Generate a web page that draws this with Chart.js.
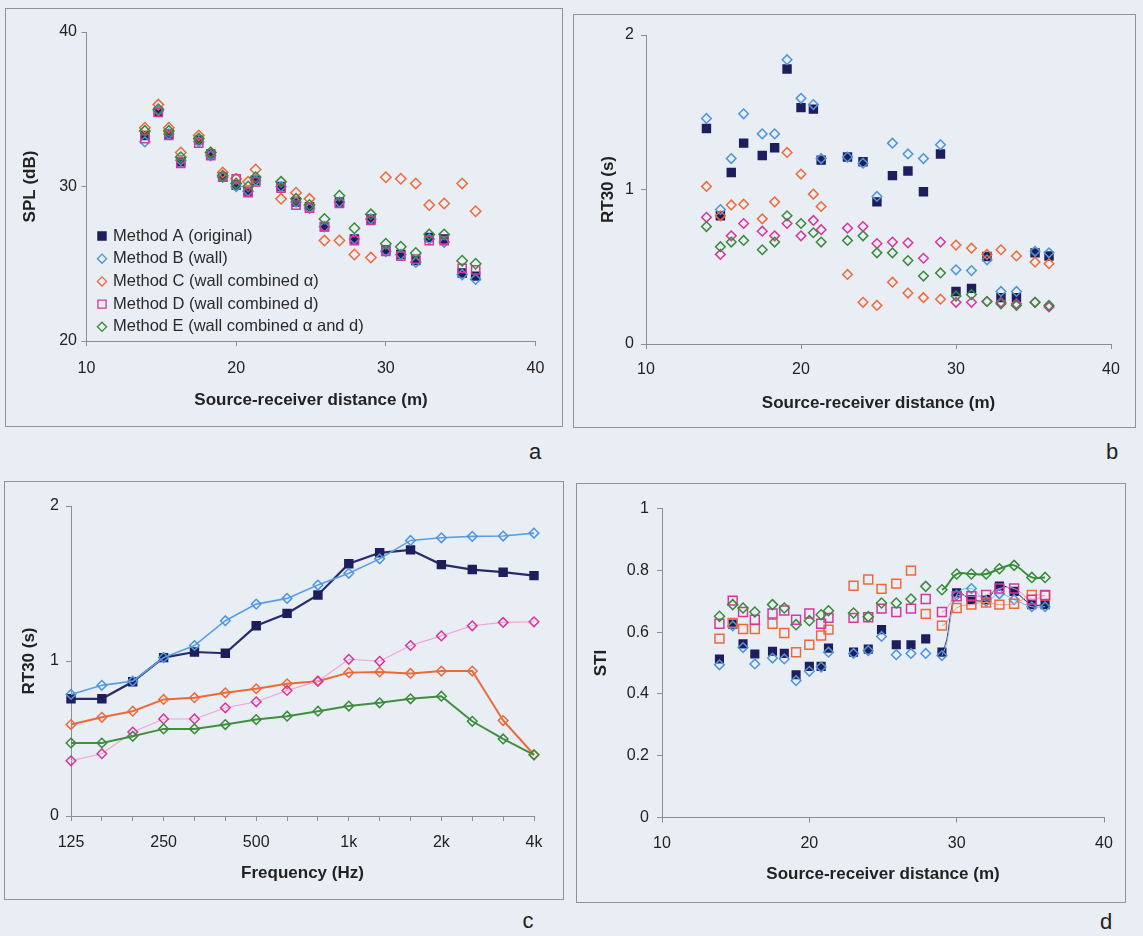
<!DOCTYPE html>
<html><head><meta charset="utf-8">
<script src="https://cdn.jsdelivr.net/npm/chart.js@4.4.1/dist/chart.umd.min.js"></script>
<style>
html,body{margin:0;padding:0;background:#e8eef4;width:1143px;height:936px;overflow:hidden;font-family:"Liberation Sans",Arial,sans-serif}
.frame{position:absolute;border:1.5px solid #8e949e;box-sizing:border-box}
canvas{position:absolute}
.lab{position:absolute;font-size:22px;color:#222;transform:translate(-50%,-50%)}
</style></head><body>
<div class="frame" style="left:5px;top:8px;width:558px;height:419px"></div>
<div class="frame" style="left:573px;top:14px;width:563px;height:414px"></div>
<div class="frame" style="left:4px;top:481px;width:560px;height:419px"></div>
<div class="frame" style="left:576px;top:483px;width:550px;height:420px"></div>
<canvas id="ca" width="558" height="419" style="left:5px;top:8px"></canvas>
<canvas id="cb" width="563" height="414" style="left:573px;top:14px"></canvas>
<canvas id="cc" width="560" height="419" style="left:4px;top:481px"></canvas>
<canvas id="cd" width="550" height="420" style="left:576px;top:483px"></canvas>
<div class="lab" style="left:535px;top:452px">a</div>
<div class="lab" style="left:1112px;top:452px">b</div>
<div class="lab" style="left:528px;top:921px">c</div>
<div class="lab" style="left:1106px;top:922px">d</div>
<script>
// ---------- data ----------
const seriesNames = ['Method A (original)','Method B (wall)','Method C (wall combined α)','Method D (wall combined d)','Method E (wall combined α and d)'];
const distances = [13.9,14.8,15.5,16.3,17.5,18.3,19.1,20.0,20.8,21.3,23.0,24.0,24.9,25.9,26.9,27.9,29.0,30.0,31.0,32.0,32.9,33.9,35.1,36.0];

// (a) SPL (dB)
const splA = [33.3,34.8,33.4,31.6,33.0,32.1,30.6,30.1,29.7,30.4,30.0,29.0,28.7,27.4,29.0,26.6,27.9,25.9,25.6,25.2,26.7,26.6,24.4,24.2];
const splB = [32.9,34.9,33.4,31.7,32.9,32.0,30.6,30.0,29.7,30.4,30.0,29.0,28.6,27.4,29.0,26.6,27.9,25.8,25.6,25.1,26.6,26.4,24.3,24.0];
const splC = [33.8,35.3,33.8,32.2,33.3,32.2,30.9,30.5,30.3,31.1,29.2,29.6,29.2,26.5,26.5,25.6,25.4,30.6,30.5,30.2,28.8,28.9,30.2,28.4];
const splD = [33.1,34.8,33.3,31.5,32.8,32.0,30.6,30.5,29.6,30.3,29.9,28.8,28.6,27.4,28.9,26.5,27.8,25.8,25.5,25.3,26.5,26.5,24.7,24.6];
const splE = [33.6,35.0,33.6,31.9,33.1,32.2,30.7,30.2,30.0,30.6,30.3,29.2,28.8,27.9,29.4,27.3,28.2,26.3,26.1,25.7,26.9,26.9,25.2,25.0];

// (b) RT30 (s) vs distance
const rtA = [1.395,0.83,1.11,1.30,1.22,1.27,1.78,1.53,1.52,1.19,1.21,1.18,0.92,1.09,1.12,0.985,1.23,0.34,0.36,0.566,0.30,0.30,0.59,0.57];
const rtB = [1.46,0.87,1.20,1.49,1.36,1.36,1.84,1.59,1.55,1.20,1.21,1.17,0.955,1.30,1.23,1.20,1.29,0.48,0.475,0.545,0.34,0.34,0.60,0.59];
const rtC = [1.02,0.83,0.90,0.905,0.81,0.92,1.24,1.10,0.97,0.89,0.45,0.27,0.25,0.40,0.33,0.30,0.29,0.64,0.62,0.58,0.61,0.57,0.53,0.52];
const rtD = [0.82,0.58,0.70,0.78,0.73,0.70,0.78,0.70,0.80,0.74,0.75,0.76,0.65,0.66,0.655,0.555,0.66,0.27,0.27,0.275,0.27,0.26,0.27,0.24];
const rtE = [0.76,0.63,0.66,0.67,0.61,0.66,0.83,0.78,0.72,0.66,0.67,0.70,0.59,0.59,0.54,0.44,0.46,0.31,0.32,0.275,0.26,0.25,0.27,0.25];

// (c) RT30 (s) vs frequency
const freqLabels = ['125','160','200','250','315','400','500','630','800','1k','1.25k','1.6k','2k','2.5k','3.15k','4k'];
const freqA = [0.756,0.756,0.866,1.022,1.058,1.05,1.227,1.307,1.426,1.627,1.698,1.717,1.622,1.59,1.573,1.551];
const freqB = [0.784,0.843,0.87,1.022,1.10,1.26,1.367,1.404,1.49,1.566,1.659,1.778,1.795,1.804,1.806,1.825];
const freqC = [0.59,0.637,0.676,0.752,0.763,0.795,0.821,0.853,0.87,0.925,0.929,0.92,0.935,0.935,0.616,0.395];
const freqD = [0.356,0.402,0.542,0.626,0.626,0.698,0.737,0.81,0.87,1.011,0.998,1.10,1.162,1.227,1.249,1.253];
const freqE = [0.471,0.471,0.514,0.562,0.562,0.59,0.622,0.644,0.676,0.709,0.73,0.756,0.773,0.611,0.497,0.395];

// (d) STI
const stiA = [0.513,0.626,0.562,0.529,0.538,0.531,0.462,0.489,0.489,0.548,0.535,0.545,0.608,0.559,0.559,0.578,0.535,0.727,0.705,0.705,0.749,0.732,0.689,0.689];
const stiB = [0.494,0.62,0.55,0.497,0.516,0.513,0.443,0.473,0.487,0.535,0.531,0.54,0.586,0.527,0.531,0.531,0.524,0.72,0.741,0.70,0.724,0.705,0.682,0.682];
const stiC = [0.579,0.63,0.61,0.61,0.627,0.597,0.535,0.559,0.589,0.608,0.75,0.77,0.74,0.757,0.799,0.659,0.621,0.678,0.689,0.696,0.689,0.692,0.72,0.718];
const stiD = [0.627,0.702,0.665,0.64,0.66,0.67,0.64,0.66,0.627,0.646,0.646,0.648,0.676,0.665,0.676,0.707,0.665,0.716,0.716,0.72,0.741,0.741,0.705,0.72];
const stiE = [0.651,0.689,0.678,0.665,0.689,0.678,0.624,0.637,0.656,0.669,0.662,0.65,0.694,0.694,0.707,0.748,0.737,0.788,0.788,0.788,0.805,0.816,0.777,0.777];

// ---------- styling ----------
const FAM = '"Liberation Sans", Arial, sans-serif';
const NAVY='#1e1e5c', BLUE='#4e95dd', ORANGE='#ee6a3a', PINK='#d8369e', GREEN='#3a8a3a';
const AXC = '#8a8e98', TXT = '#222';

function xy(xs, ys){ return xs.map((x,i)=>({x:x, y:ys[i]})); }

function axis(o){
  return {
    type: o.type || 'linear',
    min: o.min, max: o.max,
    offset: false,
    ticks: Object.assign({stepSize:o.step, color:TXT, font:{size:16, family:FAM}, padding:o.tpad, autoSkip:false, maxRotation:0, minRotation:0}, o.ticks||{}),
    grid: {display:true, drawOnChartArea:false, drawTicks:true, tickLength:5, color:AXC, lineWidth:1, offset:false},
    border: {display:true, color:AXC, width:1},
    title: {display:true, text:o.title, color:TXT, font:{size:17, weight:'bold', family:FAM}, padding:o.titlePad},
    afterFit: s => { if (o.horiz) s.height = o.size; else s.width = o.size; }
  };
}

function drawMarker(ctx, style, x, y, r, fill, stroke, bw){
  ctx.beginPath();
  if (style === 'rect'){ const h = Math.SQRT1_2*r; ctx.rect(x-h, y-h, 2*h, 2*h); }
  else { ctx.moveTo(x-r,y); ctx.lineTo(x,y-r); ctx.lineTo(x+r,y); ctx.lineTo(x,y+r); ctx.closePath(); }
  if (fill && fill !== 'transparent'){ ctx.fillStyle = fill; ctx.fill(); }
  ctx.lineWidth = bw; ctx.strokeStyle = stroke; ctx.stroke();
}

const insideLegend = {
  id: 'insideLegend',
  afterDraw(chart, args, opts){
    if (!opts || !opts.show) return;
    const ctx = chart.ctx; ctx.save();
    ctx.font = opts.size + 'px ' + FAM; ctx.textBaseline = 'middle'; ctx.textAlign = 'left';
    seriesNames.forEach((name, i) => {
      const ds = chart.data.datasets.find(d => d.label === name);
      const y = opts.y + i*opts.gap;
      const r = ds.pointStyle === 'rect' ? opts.r * 1.25 : opts.r;
      drawMarker(ctx, ds.pointStyle, opts.x, y, r, ds.pointBackgroundColor, ds.pointBorderColor, 1.3);
      ctx.fillStyle = '#2a2a2a';
      ctx.fillText(name, opts.tx, y);
    });
    ctx.restore();
  }
};

function ds(label, data, style, color, filled, r, extra){
  return Object.assign({
    label, data, pointStyle: style, pointRadius: r, pointHoverRadius: r,
    pointBorderColor: color, pointBackgroundColor: filled ? color : 'transparent',
    pointBorderWidth: 1.5, borderColor: color, backgroundColor: color, showLine:false
  }, extra||{});
}

function baseOptions(pad, xo, yo, plug){
  return {
    responsive:false, animation:false, events:[],
    layout:{padding:{top:pad.top, right:pad.right, bottom:0, left:0}},
    plugins:{legend:{display:false}, tooltip:{enabled:false}, insideLegend: plug || {show:false}},
    scales:{x: axis(Object.assign({horiz:true}, xo)), y: axis(yo)}
  };
}

// ---------- (a) ----------
new Chart(document.getElementById('ca'), {
  type:'scatter',
  data:{datasets:[
    ds(seriesNames[0], xy(distances, splA), 'rect', NAVY, true, 5.6, {order:5}),
    ds(seriesNames[1], xy(distances, splB), 'rectRot', BLUE, false, 5, {order:4}),
    ds(seriesNames[2], xy(distances, splC), 'rectRot', ORANGE, false, 5.2, {order:3}),
    ds(seriesNames[3], xy(distances, splD), 'rect', PINK, false, 5.8, {order:2}),
    ds(seriesNames[4], xy(distances, splE), 'rectRot', GREEN, false, 5.2, {order:1})
  ]},
  options: baseOptions({top:24, right:27.5},
    {min:10, max:40, step:10, tpad:13, title:'Source-receiver distance (m)', titlePad:{top:0,bottom:16.8}, size:86},
    {min:20, max:40, step:10, tpad:4.5, title:'SPL (dB)', titlePad:{top:14.8,bottom:0}, size:81.5},
    {show:true, x:97, tx:108, y:228, gap:22.7, size:16.5, r:4.6}),
  plugins:[insideLegend]
});

// ---------- (b) ----------
new Chart(document.getElementById('cb'), {
  type:'scatter',
  data:{datasets:[
    ds(seriesNames[0], xy(distances, rtA), 'rect', NAVY, true, 5.6, {order:5}),
    ds(seriesNames[1], xy(distances, rtB), 'rectRot', BLUE, false, 4.8, {order:4}),
    ds(seriesNames[2], xy(distances, rtC), 'rectRot', ORANGE, false, 4.8, {order:3}),
    ds(seriesNames[3], xy(distances, rtD), 'rectRot', PINK, false, 4.8, {order:2}),
    ds(seriesNames[4], xy(distances, rtE), 'rectRot', GREEN, false, 4.8, {order:1})
  ]},
  options: baseOptions({top:21, right:25},
    {min:10, max:40, step:10, tpad:11.4, title:'Source-receiver distance (m)', titlePad:{top:0,bottom:14.8}, size:84},
    {min:0, max:2, step:1, tpad:7, title:'RT30 (s)', titlePad:{top:24.8,bottom:0}, size:73}),
  plugins:[insideLegend]
});

// ---------- (c) ----------
new Chart(document.getElementById('cc'), {
  type:'line',
  data:{labels:freqLabels, datasets:[
    ds(seriesNames[0], freqA, 'rect', NAVY, true, 5.6, {order:5, showLine:true, borderColor:'#2a2a68', borderWidth:2.2, tension:0}),
    ds(seriesNames[1], freqB, 'rectRot', BLUE, false, 4.8, {order:4, showLine:true, borderColor:'#5a9ee6', borderWidth:1.6, tension:0}),
    ds(seriesNames[2], freqC, 'rectRot', ORANGE, false, 4.8, {order:3, showLine:true, borderColor:'#ea6a3a', borderWidth:2, tension:0}),
    ds(seriesNames[3], freqD, 'rectRot', PINK, false, 4.8, {order:2, showLine:true, borderColor:'#f2a0d4', borderWidth:1.1, tension:0}),
    ds(seriesNames[4], freqE, 'rectRot', GREEN, false, 4.8, {order:1, showLine:true, borderColor:'#3f8f3f', borderWidth:2, tension:0})
  ]},
  options: baseOptions({top:25, right:30},
    {type:'category', tpad:12, title:'Frequency (Hz)', titlePad:{top:0,bottom:16.5}, size:84,
     ticks:{callback:function(v,i){ return i%3===0 ? this.getLabelForValue(v) : ''; }}},
    {min:0, max:2, step:1, tpad:7, title:'RT30 (s)', titlePad:{top:14.8,bottom:0}, size:67}),
  plugins:[insideLegend]
});

// ---------- (d) ----------
const tail = c => ({ borderColor: ctx => ctx.p0DataIndex >= 16 ? c : 'rgba(0,0,0,0)' });
new Chart(document.getElementById('cd'), {
  type:'scatter',
  data:{datasets:[
    ds(seriesNames[0], xy(distances, stiA), 'rect', NAVY, true, 5.4, {order:5, showLine:true, borderWidth:1, tension:0.4, segment:tail(NAVY)}),
    ds(seriesNames[1], xy(distances, stiB), 'rectRot', BLUE, false, 4.8, {order:4, showLine:true, borderWidth:1, tension:0.4, segment:tail('#7fb4ea')}),
    ds(seriesNames[2], xy(distances, stiC), 'rect', ORANGE, false, 6.3, {order:3, showLine:true, borderWidth:1, tension:0.4, segment:tail('#f29a74')}),
    ds(seriesNames[3], xy(distances, stiD), 'rect', PINK, false, 6.3, {order:2, showLine:true, borderWidth:1, tension:0.4, segment:tail('#e890c8')}),
    ds(seriesNames[4], xy(distances, stiE), 'rectRot', GREEN, false, 5, {order:1, showLine:true, borderWidth:2, tension:0.4, segment:tail(GREEN)})
  ]},
  options: baseOptions({top:25.5, right:22},
    {min:10, max:40, step:10, tpad:11.9, title:'Source-receiver distance (m)', titlePad:{top:0,bottom:18.8}, size:85.5},
    {min:0, max:1, step:0.2, tpad:8, title:'STI', titlePad:{top:14.8,bottom:0}, size:86,
     ticks:{callback: v => String(Number(v.toFixed(2)))}}),
  plugins:[insideLegend]
});
</script>
</body></html>
